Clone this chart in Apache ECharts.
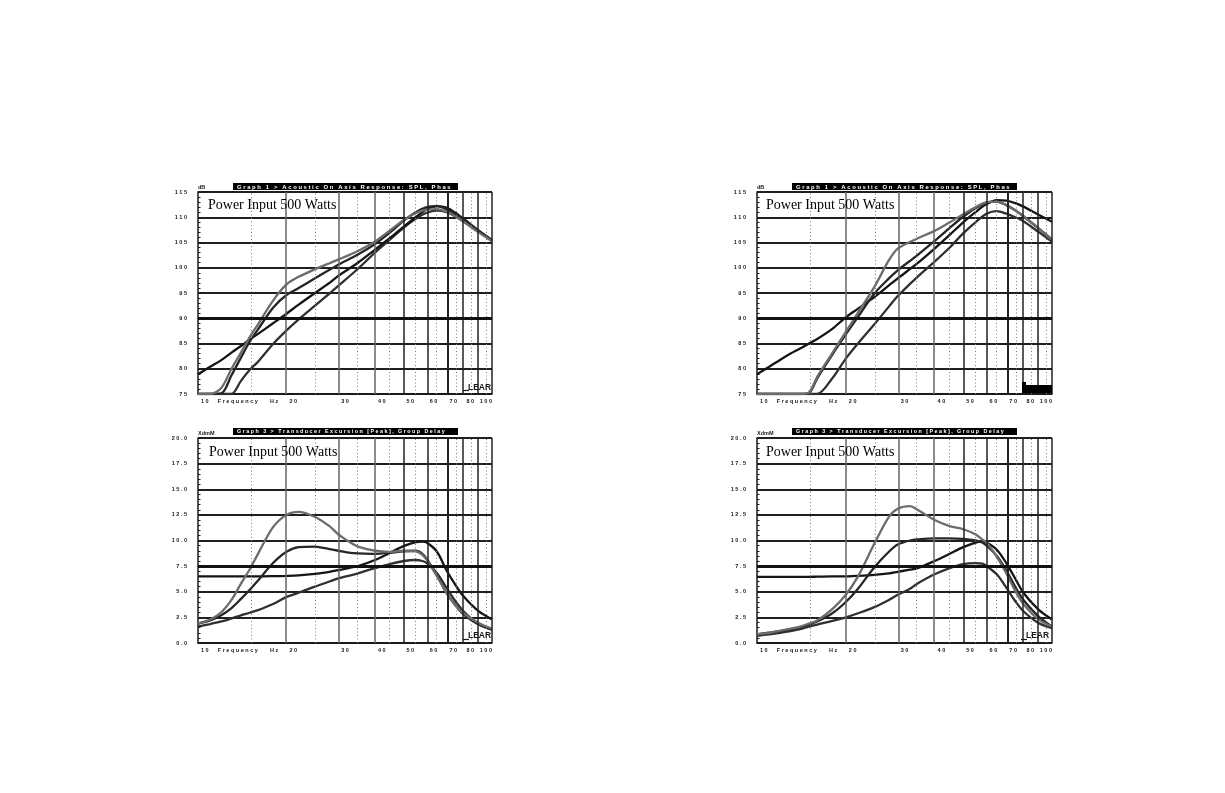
<!DOCTYPE html>
<html>
<head>
<meta charset="utf-8">
<script src="https://cdn.jsdelivr.net/npm/echarts@6/dist/echarts.min.js"></script>
<style>
html,body{margin:0;padding:0;background:#fff;}
#chart{width:1225px;height:793px;}
</style>
</head>
<body>
<div id="chart"></div>
<script>
// ---------- DATA ----------
const freqTop = [10,11,12,13,14,15,16,18,20,22,25,28,30,35,40,45,50,55,60,65,70,75,80,90,100];
const freqBot = [10,11,12,13,14,15,16,18,20,22,25,28,30,33,35,40,45,50,55,58,60,65,70,75,80,90,100];
const freqTicks = [10,20,30,40,50,60,70,80,100];
const freqMajorLines = [20,30,40,50,60,70,80,90,100];
const freqMinorLines = [15,25,35,45,55,65,75,85,95];

// Graph 1 (SPL dB) - left panel
const splL_gray = [75,75,76.2,80.0,83.2,86.3,88.8,93.5,96.7,98.2,99.7,100.9,101.6,103.3,105.2,107.4,109.4,110.8,111.5,111.6,111.1,110.2,109.1,107.0,105.3];
const splL_b    = [75,75,75.1,78.7,82.2,85.4,87.8,92.1,94.6,96.0,97.9,99.6,100.6,102.6,104.7,107.0,109.3,111.0,112.0,112.2,111.6,110.6,109.5,107.3,105.4];
const splL_a    = [78.9,80.4,81.7,83.2,84.5,85.8,86.9,89.0,90.9,92.7,95.0,97.0,98.4,101.0,103.6,105.9,108.1,110.0,111.6,112.2,111.9,110.9,109.7,107.4,105.5];
const splL_c    = [75,75,75,75,77.6,79.8,81.4,84.9,87.6,89.8,92.5,94.9,96.4,99.8,103.0,105.6,107.9,109.7,110.9,111.3,111.0,110.2,109.2,107.1,105.3];

// Graph 1 (SPL dB) - right panel
const splR_gray = [75,75,75,75,75,75.3,78.4,83.1,87.3,91.1,96.2,101.5,103.8,105.8,107.3,109.0,110.6,112.0,113.0,113.1,112.4,111.4,110.2,107.8,105.5];
const splR_b    = [75,75,75,75,75,75.2,78.1,82.8,86.8,90.3,94.9,97.9,99.5,102.5,105.3,107.9,110.1,111.8,112.9,113.1,112.4,111.4,110.2,107.8,105.6];
const splR_a    = [78.9,80.4,81.8,83.0,84.0,85.0,85.9,87.9,90.2,91.9,94.2,96.5,97.9,100.9,103.8,106.5,109.0,111.0,112.6,113.4,113.3,112.8,112.1,110.5,109.1];
const splR_c    = [75,75,75,75,75,75,75,78.1,82.0,85.0,88.8,92.3,94.4,98.2,101.2,104.0,106.8,109.0,110.7,111.2,110.7,110.0,109.2,107.1,105.2];

// Graph 3 (Excursion mm) - left panel
const excL_gray = [1.9,2.3,3.0,4.2,5.8,7.2,8.7,11.3,12.5,12.8,12.3,11.4,10.6,9.8,9.4,9.0,8.9,9.0,8.95,8.6,8.1,6.5,4.9,3.7,2.9,1.95,1.4];
const excL_b    = [1.9,2.2,2.7,3.4,4.3,5.2,6.1,7.8,8.9,9.35,9.4,9.15,9.0,8.8,8.75,8.7,8.8,8.95,9.0,8.7,8.2,6.6,4.9,3.7,2.8,1.8,1.3];
const excL_a    = [6.5,6.5,6.5,6.5,6.5,6.5,6.5,6.52,6.55,6.6,6.75,6.95,7.1,7.35,7.5,8.1,8.8,9.45,9.85,9.9,9.8,8.9,7.1,5.7,4.55,3.1,2.3];
const excL_c    = [1.6,1.85,2.1,2.4,2.7,2.95,3.2,3.8,4.5,4.9,5.5,6.0,6.3,6.6,6.8,7.3,7.7,8.0,8.1,8.0,7.8,6.8,5.4,4.1,3.1,1.85,1.3];

// Graph 3 (Excursion mm) - right panel
const excR_gray = [0.85,1.0,1.2,1.4,1.6,1.9,2.2,3.3,4.7,6.5,9.7,12.3,13.1,13.35,13.0,12.0,11.4,11.1,10.6,10.1,9.8,8.4,6.8,5.1,3.8,2.3,1.6];
const excR_b    = [0.85,1.0,1.15,1.35,1.55,1.8,2.1,2.9,4.0,5.3,7.4,8.9,9.6,10.0,10.1,10.2,10.2,10.15,10.0,9.8,9.5,8.5,7.1,5.5,4.2,2.6,1.6];
const excR_a    = [6.45,6.45,6.45,6.45,6.45,6.45,6.47,6.5,6.5,6.55,6.65,6.8,6.95,7.15,7.3,8.0,8.7,9.35,9.8,9.9,9.8,9.1,7.8,6.3,4.9,3.25,2.3];
const excR_c    = [0.7,0.85,1.0,1.15,1.35,1.6,1.8,2.15,2.5,2.9,3.5,4.2,4.7,5.3,5.8,6.7,7.3,7.7,7.8,7.75,7.5,6.7,5.4,4.1,3.1,1.95,1.45];

const title1 = 'Graph 1 > Acoustic On Axis Response: SPL, Phase';
const title3 = 'Graph 3 > Transducer Excursion [Peak], Group Delay';
const noteText = 'Power Input 500 Watts';
const logoText = 'LEAR';

// ---------- HELPERS ----------
const spaced = s => String(s).split('').join(' ');
const L10 = Math.log10;
const smallFont = {fontFamily:'Liberation Sans', fontSize:5.5, fontWeight:'bold', color:'#1a1a1a'};

const grids = [
  {left:198, top:192, width:294, height:202},
  {left:757, top:192, width:295, height:202},
  {left:198, top:438, width:294, height:205},
  {left:757, top:438, width:295, height:205}
];

function xAxisCfg(i){
  return {
    type:'value', gridIndex:i, min:1, max:2,
    axisLine:{show:true, lineStyle:{color:'#1a1a1a', width:1.5}},
    axisTick:{show:false}, splitLine:{show:false},
    axisLabel:Object.assign({}, smallFont, {
      customValues: freqTicks.map(L10),
      margin:4, align:'left', padding:[0,0,0,3],
      alignMaxLabel:'right',
      formatter: v => {
        const f = Math.round(Math.pow(10, v));
        if (f === 10) return spaced('10') + '      ' + spaced('Frequency') + '        ' + spaced('Hz');
        return spaced(f);
      }
    })
  };
}
function yAxisCfg(i){
  const top = i < 2;
  return {
    type:'value', gridIndex:i,
    min: top ? 75 : 0, max: top ? 115 : 20, interval: top ? 5 : 2.5,
    name: top ? 'dB' : 'XdmM', nameLocation:'end', nameGap:2,
    nameTextStyle:Object.assign({}, smallFont, {align:'left'}),
    axisLine:{show:true, lineStyle:{color:'#1a1a1a', width:1.5}},
    axisTick:{show:true, inside:true, length:4, lineStyle:{color:'#1a1a1a'}},
    minorTick:{show:true, splitNumber:5, length:2.5, lineStyle:{color:'#1a1a1a', width:1}},
    splitLine:{show:true, lineStyle:{color:'#1f1f1f', width:2}},
    axisLabel:Object.assign({}, smallFont, {
      margin:11,
      formatter: v => spaced(top ? String(v) : v.toFixed(1))
    })
  };
}
function gridLinesSeries(i){
  const top = i < 2;
  const items = [];
  freqMinorLines.forEach(f => items.push({xAxis:L10(f), lineStyle:{color:'#7a7a7a', width:1, type:[1,2.5]}}));
  freqMajorLines.forEach(f => {
    const c = f <= 40 ? '#666' : '#222';
    const w = f === 70 ? 2 : 1.5;
    items.push({xAxis:L10(f), lineStyle:{color:c, width:w, type:'solid'}});
  });
  items.push({yAxis: top ? 90 : 7.5, lineStyle:{color:'#111', width:3, type:'solid'}});
  return {
    type:'line', xAxisIndex:i, yAxisIndex:i, z:1, silent:true,
    data:[[1, top ? 75 : 0]], showSymbol:false, lineStyle:{opacity:0},
    markLine:{silent:true, symbol:['none','none'], label:{show:false}, animation:false, data:items}
  };
}
function curve(i, freqs, vals, color, width){
  return {
    type:'line', xAxisIndex:i, yAxisIndex:i, z:3, silent:true,
    data: freqs.map((f,k) => [L10(f), vals[k]]),
    showSymbol:false, smooth:0.3, clip:true,
    lineStyle:{color:color, width:width}
  };
}

const GRAY = '#6c6c6c', BLK1 = '#151515', BLK2 = '#262626', BLK3 = '#303030';
const panels = [
  [freqTop, [splL_c, splL_a, splL_b, splL_gray]],
  [freqTop, [splR_c, splR_a, splR_b, splR_gray]],
  [freqBot, [excL_c, excL_a, excL_b, excL_gray]],
  [freqBot, [excR_c, excR_a, excR_b, excR_gray]]
];
const colors = [BLK3, BLK1, BLK2, GRAY];

const series = [];
panels.forEach((p, i) => {
  series.push(gridLinesSeries(i));
  p[1].forEach((vals, k) => series.push(curve(i, p[0], vals, colors[k], 2.3)));
});

const bar = (text, left, top, fs) => ({
  text: spaced(text), left, top, padding:[1,3,0,4], backgroundColor:'#000',
  textStyle:{fontFamily:'Liberation Sans', fontSize:fs, fontWeight:'bold', color:'#fff', lineHeight:6, width:218, overflow:'truncate', ellipsis:''}
});
const note = (left, top) => ({
  text: noteText, left, top, padding:0,
  textStyle:{fontFamily:'Liberation Serif', fontSize:14, fontWeight:'normal', color:'#000'}
});
const logo = (left, top) => ({
  text: logoText, left, top, padding:0,
  textStyle:{fontFamily:'Liberation Sans', fontSize:8.5, fontWeight:'bold', color:'#1a1a1a'}
});

const option = {
  animation:false,
  backgroundColor:'#fff',
  title:[
    bar(title1, 233, 183, 5.9), bar(title1, 792, 183, 5.9),
    bar(title3, 233, 428, 5.35), bar(title3, 792, 428, 5.35),
    note(208, 198), note(766, 198), note(209, 445), note(766, 445),
    logo(468, 383), logo(468, 631), logo(1026, 631)
  ],
  graphic:[
    {type:'rect', shape:{x:1022, y:385, width:30, height:8}, style:{fill:'#000'}, z:100},
    {type:'rect', shape:{x:1022, y:382, width:4, height:3}, style:{fill:'#000'}, z:100},
    {type:'line', shape:{x1:463, y1:390.5, x2:469, y2:390.5}, style:{stroke:'#1a1a1a', lineWidth:1.2}, z:100},
    {type:'line', shape:{x1:463, y1:639.5, x2:469, y2:639.5}, style:{stroke:'#1a1a1a', lineWidth:1.2}, z:100},
    {type:'line', shape:{x1:1021, y1:639.5, x2:1027, y2:639.5}, style:{stroke:'#1a1a1a', lineWidth:1.2}, z:100}
  ],
  grid: grids,
  xAxis: [0,1,2,3].map(xAxisCfg),
  yAxis: [0,1,2,3].map(yAxisCfg),
  series: series
};

const chart = echarts.init(document.getElementById('chart'), null, {renderer:'canvas'});
chart.setOption(option);
</script>
</body>
</html>
